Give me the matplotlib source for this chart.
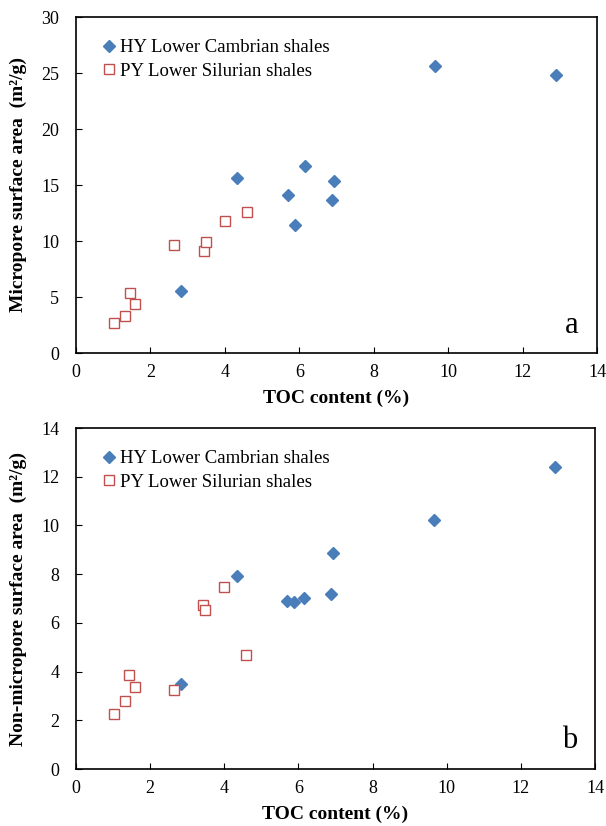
import matplotlib
matplotlib.use("Agg")
import matplotlib.pyplot as plt

# Data
hy_toc = [2.83, 4.33, 5.69, 5.89, 6.15, 6.87, 6.92, 9.66, 12.91]
hy_micro = [5.5, 15.6, 14.1, 11.4, 16.7, 13.7, 15.4, 25.6, 24.8]
hy_nonmicro = [3.5, 7.92, 6.9, 6.85, 7.03, 7.2, 8.85, 10.23, 12.4]

py_toc = [1.02, 1.32, 1.44, 1.58, 2.64, 3.43, 3.49, 4.0, 4.59]
py_micro = [2.7, 3.3, 5.4, 4.4, 9.6, 9.1, 9.9, 11.8, 12.6]
py_nonmicro = [2.25, 2.78, 3.84, 3.38, 3.25, 6.75, 6.53, 7.48, 4.66]

hy_label = "HY Lower Cambrian shales"
py_label = "PY Lower Silurian shales"
x_label = "TOC content (%)"
y_label_a = "Micropore surface area  (m²/g)"
y_label_b = "Non-micropore surface area  (m²/g)"
x_ticks = [0, 2, 4, 6, 8, 10, 12, 14]
y_ticks_a = [0, 5, 10, 15, 20, 25, 30]
y_ticks_b = [0, 2, 4, 6, 8, 10, 12, 14]

plt.rcParams['font.family'] = ['Liberation Serif', 'DejaVu Serif']

W, H = 606, 826
fig = plt.figure(figsize=(W / 100, H / 100), dpi=100)

blue = '#4a7ebb'
red = '#c0504d'

def panel(rect, yvals_hy, yvals_py, yticks, ylabel, letter):
    ax = fig.add_axes(rect)
    ax.plot(hy_toc, yvals_hy, linestyle='none', marker='D', ms=6.3,
            color=blue, mec=blue, label=hy_label)
    ax.plot(py_toc, yvals_py, linestyle='none', marker='s', ms=7.2,
            mfc='white', mec=red, mew=1.0, label=py_label)
    ax.set_xlim(0, 14)
    ax.set_ylim(yticks[0], yticks[-1])
    ax.set_xticks(x_ticks)
    ax.set_yticks(yticks)
    ax.tick_params(direction='in', length=4, width=0.8, labelsize=13, pad=8)
    ax.tick_params(axis='y', pad=12)
    for s in ax.spines.values():
        s.set_linewidth(1.2)
        s.set_color('black')
    ax.set_xlabel(x_label, fontsize=14, fontweight='bold', labelpad=6)
    ax.set_ylabel(ylabel, fontsize=14, fontweight='bold', labelpad=10)
    ax.legend(loc='upper left', frameon=False, fontsize=13.5,
              handletextpad=0.05, handlelength=1.0, borderaxespad=0.6,
              labelspacing=0.35, bbox_to_anchor=(0.01, 0.99))
    ax.text(0.965, 0.04, letter, transform=ax.transAxes, fontsize=22,
            ha='right', va='bottom')
    return ax

panel([76 / W, 1 - 353 / H, 521 / W, 336 / H], hy_micro, py_micro,
      y_ticks_a, y_label_a, 'a')
panel([76 / W, 1 - 769 / H, 519 / W, 341 / H], hy_nonmicro, py_nonmicro,
      y_ticks_b, y_label_b, 'b')

fig.savefig('out.png', dpi=100)
